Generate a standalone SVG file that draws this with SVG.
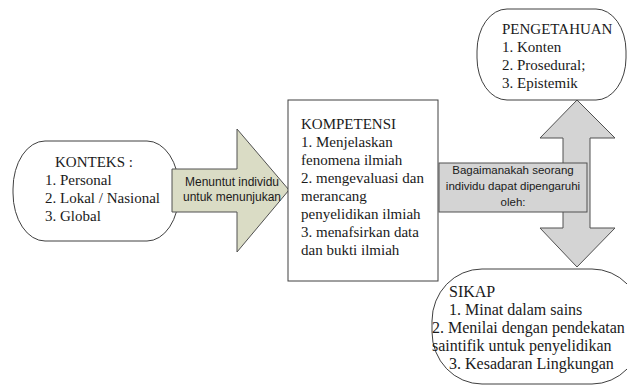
<svg xmlns="http://www.w3.org/2000/svg" width="627" height="385" viewBox="0 0 627 385">
<style>
.shape{fill:#ffffff;stroke:#404040;stroke-width:1}
.serif{font-family:"Liberation Serif","Times New Roman",serif;font-size:15px;fill:#1a1a1a}
.sans{font-family:"Liberation Sans",Arial,sans-serif;font-size:11.5px;fill:#1a1a1a;text-anchor:middle}
.green{fill:#dadcc5;stroke:#505050;stroke-width:1}
.gray{fill:#d4d4d4;stroke:#505050;stroke-width:1}
</style>
<rect width="627" height="385" fill="#ffffff"/>
<g id="konteks">
<rect class="shape" x="13" y="141" width="166" height="100" rx="32" ry="48"/>
<text class="serif"><tspan x="55" y="167">KONTEKS :</tspan><tspan x="45" y="185">1. Personal</tspan><tspan x="45" y="203">2. Lokal / Nasional</tspan><tspan x="45" y="221">3. Global</tspan></text>
</g>
<g id="connectors">
<g id="arrow-menuntut">
<polygon class="green" points="172,169 237,169 237,129 289,190 237,252 237,212 172,212"/>
<text class="sans" style="font-size:12px"><tspan x="232" y="186">Menuntut individu</tspan><tspan x="232" y="201">untuk menunjukan</tspan></text>
</g>
<g id="arrow-updown">
<polygon class="gray" points="577,100 615,138 590,138 590,228 615,228 577,267 540,228 563,228 563,138 540,138"/>
</g>
</g>
<g id="kompetensi">
<rect class="shape" x="288" y="100" width="150" height="181"/>
<text class="serif"><tspan x="301" y="129">KOMPETENSI</tspan><tspan x="301" y="147">1. Menjelaskan</tspan><tspan x="301" y="165">fenomena ilmiah</tspan><tspan x="301" y="183">2. mengevaluasi dan</tspan><tspan x="301" y="201">merancang</tspan><tspan x="301" y="219">penyelidikan ilmiah</tspan><tspan x="301" y="237">3. menafsirkan data</tspan><tspan x="301" y="255">dan bukti ilmiah</tspan></text>
</g>
<g id="bagaimanakah">
<rect class="gray" x="439" y="163" width="148" height="49"/>
<text class="sans"><tspan x="513" y="174">Bagaimanakah seorang</tspan><tspan x="513" y="190">individu dapat dipengaruhi</tspan><tspan x="513" y="206">oleh:</tspan></text>
</g>
<g id="pengetahuan">
<rect class="shape" x="477" y="9" width="149" height="91" rx="30" ry="42"/>
<text class="serif"><tspan x="502" y="34">PENGETAHUAN</tspan><tspan x="502" y="52">1. Konten</tspan><tspan x="502" y="70">2. Prosedural;</tspan><tspan x="502" y="88">3. Epistemik</tspan></text>
</g>
<g id="sikap">
<rect class="shape" x="432" y="269" width="210" height="115" rx="50" ry="52"/>
<text class="serif" style="font-size:16px"><tspan x="449" y="297">SIKAP</tspan><tspan x="449" y="315">1. Minat dalam sains</tspan><tspan x="432" y="333">2. Menilai dengan pendekatan</tspan><tspan x="432" y="351">saintifik untuk penyelidikan</tspan><tspan x="449" y="369">3. Kesadaran Lingkungan</tspan></text>
</g>
</svg>
